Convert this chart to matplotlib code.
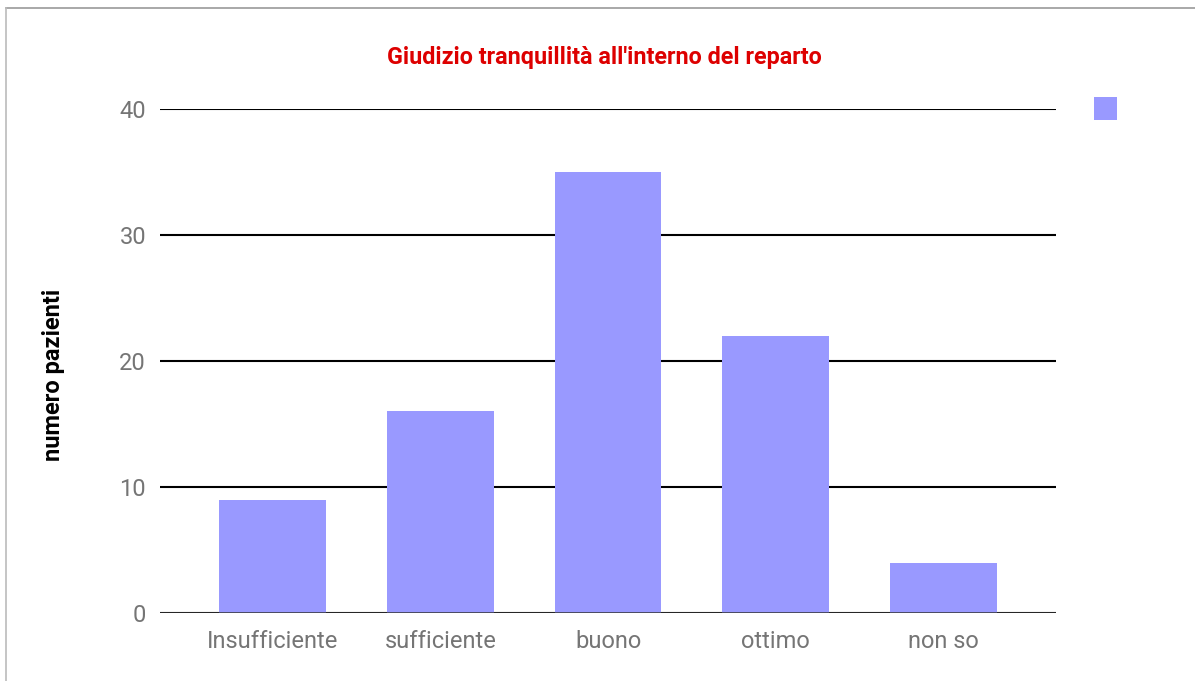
import matplotlib.pyplot as plt
from matplotlib.lines import Line2D

# data
categories = ['Insufficiente', 'sufficiente', 'buono', 'ottimo', 'non so']
values = [9, 16, 35, 22, 4]
yticks = [0, 10, 20, 30, 40]

plt.rcParams['font.family'] = ['Roboto', 'DejaVu Sans']

fig = plt.figure(figsize=(11.95, 6.81), dpi=100)
ax = fig.add_axes([0.1339, 0.0999, 0.7498, 0.74])

bars = ax.bar(range(len(categories)), values, width=0.638, color='#9999ff', zorder=3)

ax.set_ylim(0, 40)
ax.set_xlim(-0.674, len(categories) - 1 + 0.674)
ax.set_yticks(yticks)
ax.set_xticks(range(len(categories)))
ax.set_xticklabels(categories)
ax.tick_params(axis='both', length=0, labelsize=17, labelcolor='#757575')
ax.tick_params(axis='y', pad=10)
ax.tick_params(axis='x', pad=12)

for s in ax.spines.values():
    s.set_visible(False)
ax.yaxis.grid(True, color='black', linewidth=1.5, zorder=0)
ax.axhline(0, color='#333333', linewidth=1.8, zorder=4)

ax.set_ylabel('numero pazienti', fontsize=17, fontweight='bold', color='black')
ax.yaxis.set_label_coords(-0.106, 0.472)
fig.text(0.506, 0.915, "Giudizio tranquillità all'interno del reparto", ha='center', va='center',
         fontsize=16.8, fontweight='bold', color='#dd0000')

# legend: lone colour square, no label
fig.legend(handles=[bars[0]], labels=[''], loc='upper left',
           bbox_to_anchor=(1094 / 1195, 1 - 97 / 681), frameon=False,
           fontsize=14, handlelength=1.2, handleheight=1.45, borderpad=0, borderaxespad=0)

# faint page border on top and left
fig.add_artist(Line2D([6 / 1195, 1], [1 - 8 / 681, 1 - 8 / 681], color='#999999', linewidth=1.2))
fig.add_artist(Line2D([6 / 1195, 6 / 1195], [0, 1 - 8 / 681], color='#bbbbbb', linewidth=1.2))

fig.savefig('out.png', dpi=100)
